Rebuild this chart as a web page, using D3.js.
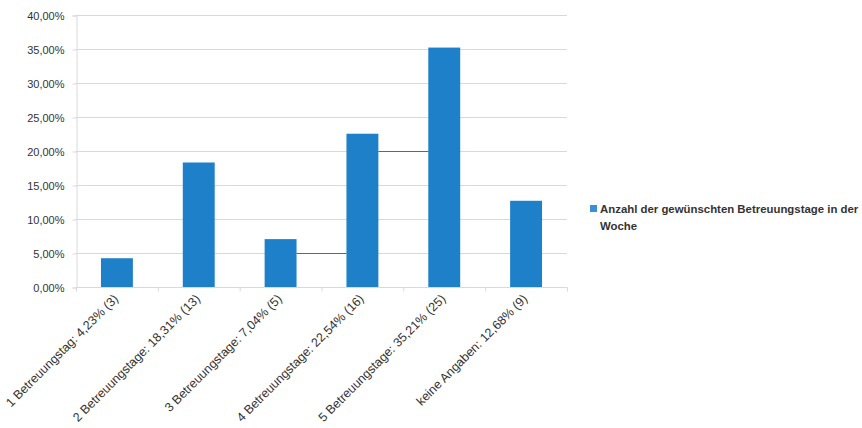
<!DOCTYPE html>
<html>
<head>
<meta charset="utf-8">
<script src="https://cdn.jsdelivr.net/npm/d3@7"></script>
<style>
  body { margin: 0; background: #fff; }
  svg { display: block; }
  text { font-family: "Liberation Sans", Arial, sans-serif; fill: #333; }
</style>
</head>
<body>
<svg id="chart"></svg>
<script>
// Data
const categories = [
  '1 Betreuungstag: 4,23% (3)',
  '2 Betreuungstage: 18,31% (13)',
  '3 Betreuungstage: 7,04% (5)',
  '4 Betreuungstage: 22,54% (16)',
  '5 Betreuungstage: 35,21% (25)',
  'keine Angaben: 12,68% (9)'
];
const values = [4.23, 18.31, 7.04, 22.54, 35.21, 12.68];
const yTicks = [0, 5, 10, 15, 20, 25, 30, 35, 40];
const seriesName = 'Anzahl der gewünschten Betreuungstage in der Woche';
// dark connector segments visible between some bars
const connectors = [
  { from: 2, to: 3, y: 5 },
  { from: 3, to: 4, y: 20 }
];

const w = 862, h = 428;
const plotLeft = 76, plotRight = 567, plotTop = 15, plotBottom = 287;
const barColor = '#1e80c8';

const chart = d3.select('#chart').attr('width', w).attr('height', h);

// Scales
const xScale = d3.scaleBand()
  .domain(categories)
  .range([plotLeft, plotRight])
  .paddingInner(0.61)
  .paddingOuter(0.305);

const xBand = d3.scaleBand().domain(categories).range([plotLeft, plotRight]);

const yScale = d3.scaleLinear()
  .domain([0, 40])
  .range([plotBottom, plotTop]);

const fmt = v => d3.format('.2f')(v).replace('.', ',') + '%';

// Gridlines
chart.append('g')
  .selectAll('line')
  .data(yTicks.filter(t => t > 0))
  .enter()
  .append('line')
  .attr('x1', plotLeft)
  .attr('x2', plotRight)
  .attr('y1', d => yScale(d) + 0.5)
  .attr('y2', d => yScale(d) + 0.5)
  .attr('stroke', '#d9d9d9')
  .attr('stroke-width', 1);

// Y axis
const yAxis = d3.axisLeft(yScale).tickValues(yTicks).tickFormat(fmt).tickSize(4).tickPadding(8);
const yAxisGroup = chart.append('g')
  .attr('transform', `translate(${plotLeft + 0.5},0.5)`)
  .call(yAxis);
yAxisGroup.select('.domain').attr('stroke', '#d9d9d9');
yAxisGroup.selectAll('.tick line').attr('stroke', '#d9d9d9');
yAxisGroup.selectAll('text').style('font-size', '11px').attr('fill', '#333');

// Bars
chart.selectAll('rect.bar')
  .data(values)
  .enter()
  .append('rect')
  .attr('class', 'bar')
  .attr('x', (d, i) => xScale(categories[i]))
  .attr('y', d => yScale(d))
  .attr('width', xScale.bandwidth())
  .attr('height', d => plotBottom - yScale(d))
  .attr('fill', barColor);

// Connector segments
chart.selectAll('line.conn')
  .data(connectors)
  .enter()
  .append('line')
  .attr('class', 'conn')
  .attr('x1', d => xScale(categories[d.from]) + xScale.bandwidth())
  .attr('x2', d => xScale(categories[d.to]))
  .attr('y1', d => yScale(d.y) + 0.5)
  .attr('y2', d => yScale(d.y) + 0.5)
  .attr('stroke', '#666')
  .attr('stroke-width', 1.2);

// X axis
const xAxisGroup = chart.append('g')
  .attr('transform', `translate(0,${plotBottom + 0.5})`);
xAxisGroup.append('line')
  .attr('x1', plotLeft).attr('x2', plotRight)
  .attr('stroke', '#d9d9d9');
xAxisGroup.selectAll('line.tick')
  .data(categories.concat(['end']))
  .enter()
  .append('line')
  .attr('class', 'tick')
  .attr('x1', (d, i) => plotLeft + i * xBand.bandwidth() + 0.5)
  .attr('x2', (d, i) => plotLeft + i * xBand.bandwidth() + 0.5)
  .attr('y1', 0).attr('y2', 4)
  .attr('stroke', '#d9d9d9');

xAxisGroup.selectAll('text')
  .data(categories)
  .enter()
  .append('text')
  .attr('transform', d => `translate(${xBand(d) + xBand.bandwidth() / 2 - 1},9) rotate(-45)`)
  .attr('text-anchor', 'end')
  .attr('dy', '0.35em')
  .style('font-size', '12.5px')
  .text(d => d);

// Legend
const legend = chart.append('g').attr('transform', 'translate(590,209)');
legend.append('rect')
  .attr('x', 0).attr('y', -4)
  .attr('width', 7).attr('height', 7)
  .attr('fill', '#3a90d8');
const legendLines = ['Anzahl der gewünschten Betreuungstage in der', 'Woche'];
legend.selectAll('text')
  .data(legendLines)
  .enter()
  .append('text')
  .attr('x', 10)
  .attr('y', (d, i) => i * 17)
  .attr('dy', '0.35em')
  .style('font-size', '11.4px')
  .style('font-weight', 'bold')
  .text(d => d);
</script>
</body>
</html>
